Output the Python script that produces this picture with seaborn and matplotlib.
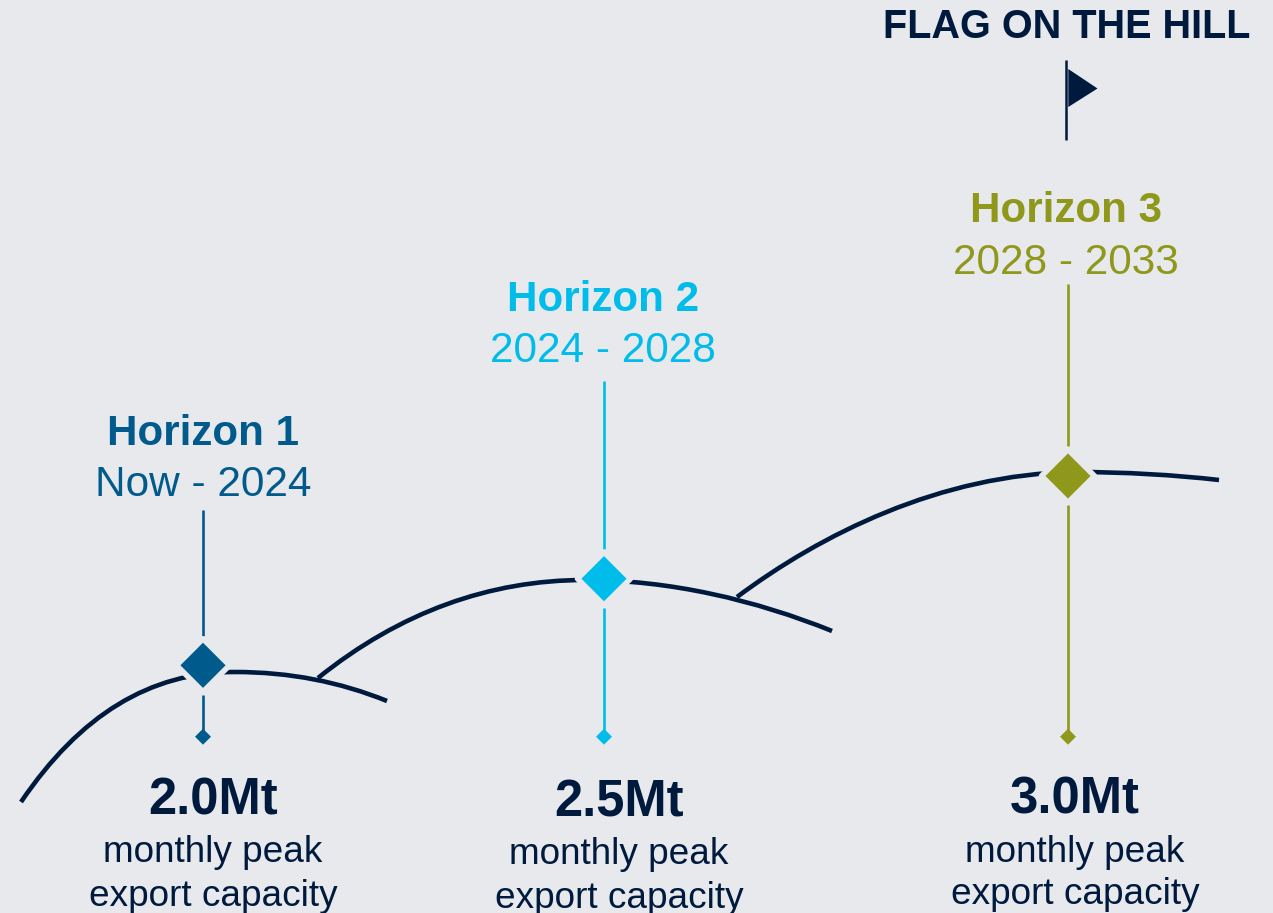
import matplotlib.pyplot as plt
import matplotlib.patches as mpatches
from matplotlib.path import Path
import seaborn as sns
import pandas as pd

bg = '#E7E9ED'
navy = '#001A3D'

horizons = ['Horizon 1', 'Horizon 2', 'Horizon 3']
periods = ['Now - 2024', '2024 - 2028', '2028 - 2033']
capacity = ['2.0Mt', '2.5Mt', '3.0Mt']
colors = ['#005A8C', '#00BCEB', '#8F981B']
milestone_x = [203, 604, 1068]
milestone_y = [665.3, 578.7, 476]
stem_top = [510, 381, 284]
foot_y = [736.7, 736.7, 736.7]
title_x = [203, 603, 1066]
title_y = [434, 300, 210.5]
period_y = [484.5, 350.5, 263]
value_x = [213, 619, 1075]
value_y = [801, 803, 800]

# hill curves as bezier anchors and handles
hill1 = [(21, 802), (80, 715), (150, 672), (235, 672), (290, 672), (340, 682), (387, 701)]
hill2 = [(318, 678), (400, 612), (490, 580), (585, 580), (670, 580), (755, 600), (832, 631)]
hill3 = [(737, 597), (820, 535), (940, 474), (1075, 472), (1125, 472), (1175, 475), (1219, 480)]

sns.set_theme(style='white')
plt.rcParams['font.family'] = ['Liberation Sans', 'DejaVu Sans']

fig = plt.figure(figsize=(12.73, 9.13), dpi=100, facecolor=bg)
ax = fig.add_axes([0, 0, 1, 1])
ax.set_facecolor(bg)

for hill in [hill1, hill2, hill3]:
    codes = [Path.MOVETO] + [Path.CURVE4] * 6
    ax.add_patch(mpatches.PathPatch(Path(hill, codes), facecolor='none', edgecolor=navy,
                                    lw=3.3, capstyle='butt', zorder=3))

marks = pd.DataFrame({'x': milestone_x, 'y': milestone_y, 'horizon': horizons})
feet = pd.DataFrame({'x': milestone_x, 'y': foot_y, 'horizon': horizons})
# wide background edge makes the gap where the curve meets the diamond
sns.scatterplot(data=marks, x='x', y='y', hue='horizon', palette=colors, marker='D', s=729,
                edgecolor=bg, linewidth=4, legend=False, ax=ax, zorder=4)
sns.scatterplot(data=feet, x='x', y='y', hue='horizon', palette=colors, marker='D', s=66,
                linewidth=0, legend=False, ax=ax, zorder=4)

ax.set_xlim(0, 1273)
ax.set_ylim(913, 0)
ax.axis('off')

for i in range(3):
    mx = milestone_x[i]
    my = milestone_y[i]
    c = colors[i]
    # stems stop short of the diamond, leaving a gap
    ax.plot([mx, mx], [stem_top[i], my - 29.5], color=c, lw=1.9, zorder=2, solid_capstyle='butt')
    ax.plot([mx, mx], [my + 29.5, foot_y[i]], color=c, lw=1.9, zorder=2, solid_capstyle='butt')

    ax.text(title_x[i], title_y[i], horizons[i], color=c, fontsize=30.3, fontweight='bold', ha='center', va='center')
    ax.text(title_x[i], period_y[i], periods[i], color=c, fontsize=30.5, ha='center', va='center')
    ax.text(value_x[i], value_y[i], capacity[i], color=navy, fontsize=36.5, fontweight='bold', ha='center', va='center')
    ax.text(value_x[i], value_y[i] + 52, 'monthly peak', color=navy, fontsize=26.6, ha='center', va='center')
    ax.text(value_x[i], value_y[i] + 95, 'export capacity', color=navy, fontsize=26.6, ha='center', va='center')

# flag
ax.text(1066.5, 37.5, 'FLAG ON THE HILL', color=navy, fontsize=28.5, fontweight='bold', ha='center', va='baseline')
ax.plot([1066.3, 1066.3], [60, 140], color=navy, lw=1.8, solid_capstyle='butt')
ax.add_patch(mpatches.Polygon([(1068.3, 69), (1097.5, 88.5), (1068.3, 107)], closed=True, color=navy, lw=0))

fig.savefig('out.png', dpi=100, facecolor=bg)
